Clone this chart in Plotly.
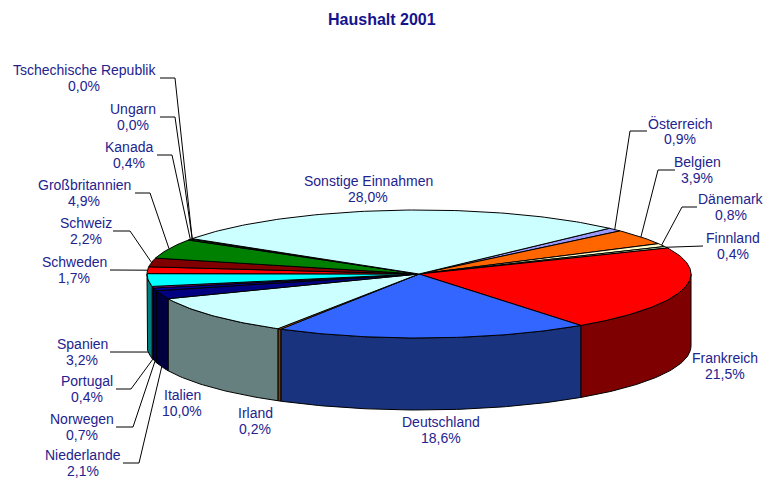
import math
import plotly.graph_objects as go

# ---------------- data ----------------
countries = ["Österreich", "Belgien", "Dänemark", "Finnland", "Frankreich",
             "Deutschland", "Irland", "Italien", "Niederlande", "Norwegen",
             "Portugal", "Spanien", "Schweden", "Schweiz", "Großbritannien",
             "Kanada", "Ungarn", "Tschechische Republik", "Sonstige Einnahmen"]
shares = [0.9, 3.9, 0.8, 0.4, 21.5, 18.6, 0.2, 10.0, 2.1, 0.7,
          0.4, 3.2, 1.7, 2.2, 4.9, 0.4, 0.0, 0.0, 28.0]
share_labels = ["0,9%", "3,9%", "0,8%", "0,4%", "21,5%", "18,6%", "0,2%", "10,0%",
                "2,1%", "0,7%", "0,4%", "3,2%", "1,7%", "2,2%", "4,9%", "0,4%",
                "0,0%", "0,0%", "28,0%"]
title_text = "Haushalt 2001"

# ---------------- styling / layout ----------------
slice_colors = ["#9999FF", "#FF6600", "#FFFFCC", "#CCFFCC", "#FF0000",
                "#3366FF", "#FF8000", "#CCFFFF", "#000080", "#000099",
                "#CC00CC", "#00FFFF", "#FF0000", "#800000", "#008000",
                "#003300", "#FFFF00", "#99CCFF", "#CCFFFF"]
W, H = 764, 479
CX, CY, RX, RY, DEPTH = 419, 274, 272, 64, 72
START = 44.4  # degrees, clockwise from the back
TEXT_COLOR = "#23238E"
FONT = "Liberation Sans, Arial, sans-serif"
FONT_SIZE = 14
LINE_GAP = 8

# label placement: (center x, center y, line start x, elbow x or None)
label_pos = {
    "Österreich": (680, 131, 647, 630),
    "Belgien": (697, 170, 675, 658),
    "Dänemark": (731, 207, 697, 682),
    "Finnland": (733, 246, 703, None),
    "Frankreich": (725, 366, None, None),
    "Deutschland": (441, 430, None, None),
    "Irland": (255, 421, None, None),
    "Italien": (182, 403, None, None),
    "Niederlande": (83, 463, 123, 139),
    "Norwegen": (82, 427, 116, 133),
    "Portugal": (87, 389, 116, 131),
    "Spanien": (82, 352, 110, None),
    "Schweden": (74, 270, 110, None),
    "Schweiz": (86, 231, 113, 130),
    "Großbritannien": (84, 193, 135, 150),
    "Kanada": (129, 155, 157, 172),
    "Ungarn": (133, 117, 160, 175),
    "Tschechische Republik": (84, 78, 160, 175),
    "Sonstige Einnahmen": (368, 189, None, None),
}


def darken(hexcol):
    r, g, b = int(hexcol[1:3], 16), int(hexcol[3:5], 16), int(hexcol[5:7], 16)
    return "#%02X%02X%02X" % (r // 2, g // 2, b // 2)


def pt(theta, drop=0.0):
    t = math.radians(theta)
    return CX + RX * math.sin(t), CY - RY * math.cos(t) + drop


def arc(a, b, drop=0.0):
    n = max(2, int(abs(b - a) / 1.0) + 2)
    xs, ys = [], []
    for i in range(n):
        th = a + (b - a) * i / (n - 1)
        x, y = pt(th, drop)
        xs.append(x)
        ys.append(y)
    return xs, ys


total = sum(shares)
bounds = []
acc = START
for v in shares:
    a = acc
    acc += v / total * 360.0
    bounds.append((a, acc))

fig = go.Figure()

# walls (front half only)
for (a, b), col in zip(bounds, slice_colors):
    lo, hi = max(a, 90.0), min(b, 270.0)
    if hi <= lo:
        continue
    tx, ty = arc(lo, hi)
    bx, by = arc(hi, lo, DEPTH)
    fig.add_trace(go.Scatter(x=tx + bx + [tx[0]], y=ty + by + [ty[0]],
                             mode="lines", fill="toself", fillcolor=darken(col),
                             line=dict(color="black", width=1),
                             hoverinfo="skip", showlegend=False))

# top faces
for (a, b), col in zip(bounds, slice_colors):
    ax, ay = arc(a, b)
    fig.add_trace(go.Scatter(x=[CX] + ax + [CX], y=[CY] + ay + [CY],
                             mode="lines", fill="toself", fillcolor=col,
                             line=dict(color="black", width=1),
                             hoverinfo="skip", showlegend=False))

# labels and leader lines
for name, lab, (a, b) in zip(countries, share_labels, bounds):
    lx, ly, sx, ex = label_pos[name]
    for txt, yy in ((name, ly - LINE_GAP), (lab, ly + LINE_GAP)):
        fig.add_annotation(x=lx, y=yy, text=txt, showarrow=False,
                           xanchor="center", yanchor="middle",
                           font=dict(family=FONT, size=FONT_SIZE, color=TEXT_COLOR))
    if sx is None:
        continue
    mid = (a + b) / 2.0
    drop = DEPTH if 90 < (mid % 360) < 270 else 0.0
    px, py = pt(mid, drop)
    xs, ys = [sx], [ly]
    if ex is not None:
        xs.append(ex)
        ys.append(ly)
    xs.append(px)
    ys.append(py)
    fig.add_trace(go.Scatter(x=xs, y=ys, mode="lines",
                             line=dict(color="black", width=1),
                             hoverinfo="skip", showlegend=False))

fig.add_annotation(x=W / 2, y=19, text=f"<b>{title_text}</b>", showarrow=False,
                   xanchor="center", yanchor="middle",
                   font=dict(family=FONT, size=16, color="#14148C"))

fig.update_layout(width=W, height=H, margin=dict(l=0, r=0, t=0, b=0),
                  paper_bgcolor="white", plot_bgcolor="white", showlegend=False,
                  xaxis=dict(range=[0, W], visible=False, fixedrange=True),
                  yaxis=dict(range=[H, 0], visible=False, fixedrange=True))

fig.write_html("out.html",
               config={"displayModeBar": False},
               post_script="document.body.style.margin='0px';"
                           "document.body.style.overflow='hidden';")
